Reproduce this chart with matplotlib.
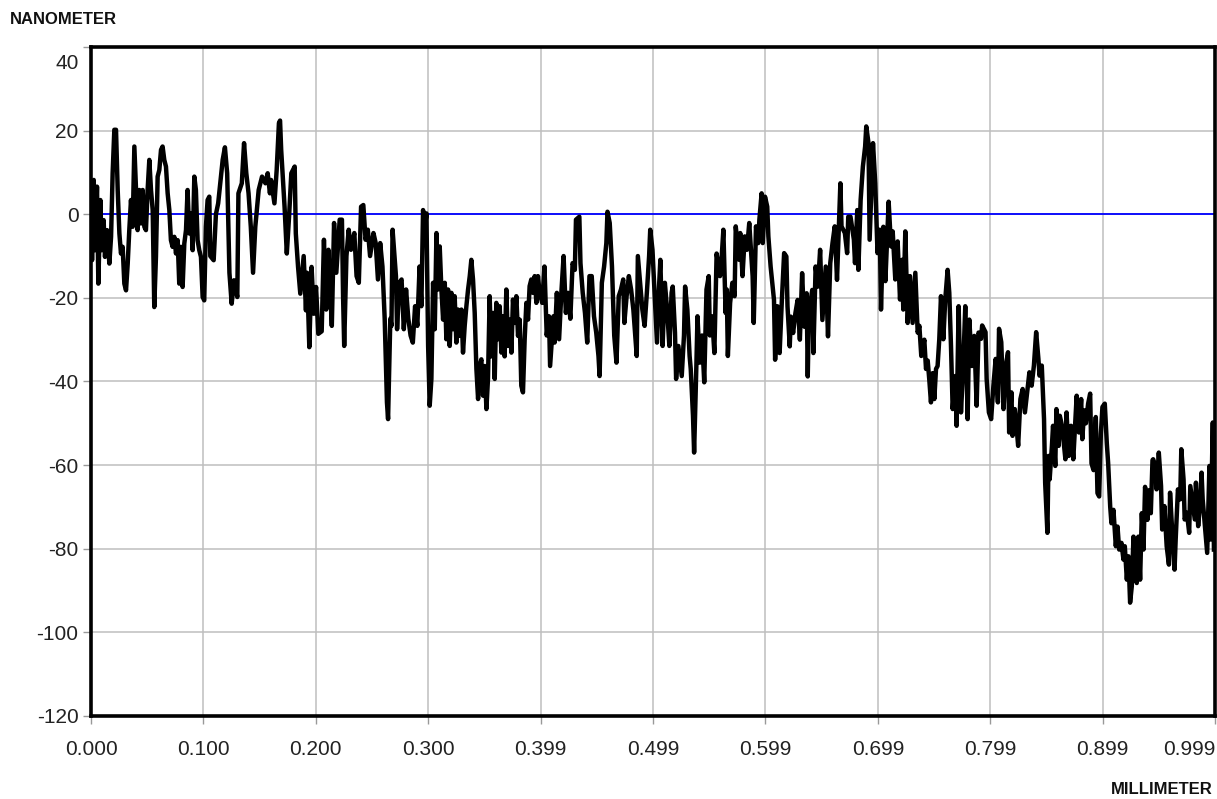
import numpy as np
import matplotlib
matplotlib.use("Agg")
import matplotlib.pyplot as plt
from matplotlib import transforms

plt.rcParams["font.family"] = ["Liberation Sans", "DejaVu Sans"]
plt.rcParams["axes.unicode_minus"] = False

# 표면 프로파일 (x: mm, 높이: nm) - 스캔 구간별로 나눠서 보관
x_a = [0.0000, 0.0009, 0.0024, 0.0036, 0.0053, 0.0065, 0.0083, 0.0095, 0.0112, 0.0124,
       0.0142, 0.0163, 0.0178, 0.0192, 0.0207, 0.0222, 0.0237, 0.0252, 0.0266, 0.0281,
       0.0296, 0.0311, 0.0326, 0.0340, 0.0355, 0.0370, 0.0385, 0.0400, 0.0414, 0.0429,
       0.0444, 0.0459, 0.0474, 0.0488, 0.0503, 0.0518, 0.0533, 0.0548, 0.0562, 0.0577,
       0.0592, 0.0607, 0.0622, 0.0636, 0.0651, 0.0666, 0.0681, 0.0696, 0.0710, 0.0725,
       0.0740, 0.0755, 0.0770, 0.0784, 0.0799, 0.0814, 0.0829, 0.0844, 0.0858, 0.0873,
       0.0888, 0.0903, 0.0918, 0.0932, 0.0947, 0.0962, 0.0977, 0.0992, 0.1006, 0.1021,
       0.1036, 0.1051]
nm_a = [5, -11, 8.2, -8.6, 6.6, -16.6, 3.4, -8.6, -1.4, -10.2,
        -3.8, -11.8, -5.4, 9.8, 20.2, 20.2, 5.8, -4.6, -9.4, -7.8,
        -16.6, -18.2, -11.8, -3.8, 3.4, -3, 16.2, 5.8, -3.8, 5.8,
        -2.2, 5.8, -3, -3.8, 5.8, 13, 5.8, 1, -22.2, -10.2,
        9, 10.6, 15.4, 16.2, 13, 11.4, 5, 1, -6.2, -7.8,
        -5.4, -9.4, -6.2, -16.6, -7.8, -17.4, -7, -3.8, 5.8, -4.6,
        0.2, -8.6, 9, 5.8, -6.2, -8.6, -10.2, -19.8, -20.6, -3,
        3.4, 4.2]

x_b = [0.106, 0.109, 0.111, 0.113, 0.117, 0.119, 0.121, 0.123, 0.125, 0.127,
       0.130, 0.131, 0.134, 0.136, 0.138, 0.140, 0.142, 0.144, 0.146, 0.149,
       0.152, 0.155, 0.157, 0.159, 0.160, 0.163, 0.165, 0.167, 0.168, 0.169,
       0.172, 0.174, 0.176, 0.178, 0.181, 0.182, 0.184, 0.186, 0.189, 0.191,
       0.192, 0.194, 0.196, 0.198, 0.200, 0.202,
       0.205, 0.207, 0.209, 0.211, 0.212, 0.214, 0.216, 0.218, 0.221, 0.223,
       0.224, 0.225, 0.227, 0.229, 0.231, 0.234, 0.236, 0.238, 0.240, 0.242,
       0.244, 0.246, 0.248, 0.251, 0.253, 0.255, 0.257, 0.259, 0.261, 0.263,
       0.264, 0.266, 0.267, 0.268, 0.271, 0.272, 0.274, 0.276, 0.278, 0.280,
       0.282, 0.284, 0.286, 0.288, 0.290, 0.292]
nm_b = [-10, -11, 0, 2.6, 13, 16, 9.8, -14, -21.4, -15.8,
        -19.8, 5, 7.4, 17, 9.8, 5, -3, -14, -3, 5.8,
        9, 7.4, 9.8, 5, 8.2, 2.6, 10.6, 21.8, 22.4, 15.4,
        1.8, -9.4, -0.6, 9.8, 11.4, -4.6, -12.6, -19, -10, -23,
        -14, -31.8, -12.6, -23.8, -17.4, -28.6,
        -28, -6.1, -22.8, -8.5, -14.8, -26.7, -2.1, -14, -1.3, -1.3,
        -19.6, -31.5, -10, -3.7, -8.5, -4.5, -14.8, -16.4, 1.8, 2.2,
        -6.1, -3.7, -10, -4.5, -6.9, -15.6, -6.9, -12.5, -25, -45,
        -49, -25, -26.7, -3.7, -14.8, -27.5, -16.4, -15.6, -27.5, -18,
        -25, -29, -30.7, -22, -26.7, -12.5]

x_c = [0.2936, 0.2951, 0.2966, 0.2981, 0.2996, 0.3010, 0.3025, 0.3040, 0.3055, 0.3070,
       0.3084, 0.3099, 0.3114, 0.3129, 0.3144, 0.3158, 0.3173, 0.3188, 0.3203, 0.3218,
       0.3232, 0.3247, 0.3262, 0.3277, 0.3292, 0.3306, 0.3321, 0.3336, 0.3351, 0.3366,
       0.3380, 0.3395, 0.3410, 0.3425, 0.3440, 0.3454, 0.3469, 0.3484, 0.3499, 0.3514,
       0.3528, 0.3543, 0.3558, 0.3573, 0.3588, 0.3602, 0.3617, 0.3632, 0.3647, 0.3662,
       0.3676, 0.3691, 0.3706, 0.3721, 0.3736, 0.3750, 0.3765, 0.3780, 0.3795, 0.3810,
       0.3824, 0.3839, 0.3854, 0.3869, 0.3884, 0.3898, 0.3913, 0.3928, 0.3943, 0.3958,
       0.3972, 0.3987]
nm_c = [-22, 1, -3.7, 0.2, -31.5, -45.8, -39.4, -16.4, -27.5, -4.5,
        -18, -7.7, -18, -25.2, -16.4, -29.9, -18, -31.5, -18.8, -27.5,
        -19.6, -30.7, -22.8, -29.1, -22.8, -33.1, -26.7, -22, -18, -14.8,
        -10.9, -15.6, -23.6, -37, -44.2, -36.3, -34.7, -43.4, -36.3, -46.6,
        -39.4, -19.6, -34, -23.6, -39.4, -21.2, -29.9, -22, -33.1, -24.4,
        -34, -18, -31.5, -25.2, -33.1, -20.4, -26, -19.6, -29.1, -25.2,
        -41, -42.6, -29.9, -21.2, -25.2, -17.2, -15.6, -18.8, -14.8, -21.2,
        -14.8, -18.8]

x_d = [0.401, 0.403, 0.405, 0.407, 0.408, 0.411, 0.412, 0.414, 0.416, 0.418,
       0.420, 0.422, 0.424, 0.426, 0.428, 0.430, 0.431, 0.434, 0.435, 0.437,
       0.439, 0.441, 0.443, 0.445, 0.447, 0.449, 0.451, 0.452, 0.454, 0.456,
       0.458, 0.459, 0.461, 0.463, 0.465, 0.467, 0.469, 0.471, 0.473, 0.474,
       0.476, 0.478, 0.480, 0.482, 0.485, 0.486, 0.488, 0.490, 0.492, 0.494,
       0.496, 0.497, 0.499, 0.501, 0.503, 0.505, 0.506, 0.508, 0.510, 0.512,
       0.514, 0.516, 0.517, 0.519, 0.520, 0.522, 0.525, 0.527, 0.528, 0.530,
       0.532, 0.533, 0.535, 0.536, 0.538, 0.539, 0.541, 0.543, 0.545, 0.547,
       0.549, 0.550, 0.552, 0.554, 0.556, 0.559, 0.560, 0.562, 0.564, 0.565,
       0.566, 0.568, 0.570, 0.572, 0.573, 0.576, 0.577, 0.579, 0.581, 0.583,
       0.585, 0.588, 0.589, 0.591, 0.593, 0.594, 0.596]
nm_d = [-21.2, -12.5, -29, -24.4, -36.3, -24.4, -30.7, -18.8, -29.9, -18.8,
        -10, -23.6, -18.8, -25, -11.7, -13.3, -1.3, -0.6, -11.7, -18.8,
        -23.6, -30.7, -14.8, -14.8, -24.4, -28.3, -33.9, -38.7, -16.4, -12.5,
        -6.9, 0.6, -2.1, -12.5, -29, -35.5, -19.6, -18, -15.6, -26,
        -19.6, -14.8, -18, -22.8, -33.9, -10, -16.4, -22.8, -26.7, -18.8,
        -10, -3.7, -8.5, -19.6, -30.7, -16.4, -10.9, -31.5, -16.4, -22.8,
        -31.5, -18.8, -17.3, -28.3, -39.4, -31.5, -38.7, -29, -17.3, -22.8,
        -33.9, -37, -48.2, -57, -36.3, -24.4, -35.5, -29, -40.2, -18,
        -14.8, -29, -24.4, -33.2, -9.4, -14.8, -12.5, -3.7, -23.6, -18,
        -33.9, -21.2, -16.4, -19.6, -2.9, -10.9, -4.5, -14.8, -5.3, -8.5,
        -2.1, -14.8, -26, -2.9, -6.9, -1.3, 5]

x_e = [0.597, 0.599, 0.601, 0.602, 0.604, 0.607, 0.608, 0.610, 0.612, 0.614,
       0.616, 0.618, 0.619, 0.621, 0.622, 0.624, 0.626, 0.628, 0.630, 0.632,
       0.634, 0.636, 0.637, 0.638, 0.641, 0.642, 0.644, 0.646, 0.648, 0.650,
       0.652, 0.653, 0.655, 0.657, 0.659, 0.661, 0.663, 0.665, 0.666, 0.667,
       0.670, 0.672, 0.673, 0.675, 0.678, 0.679, 0.681, 0.682, 0.684, 0.686,
       0.688, 0.689, 0.691, 0.692, 0.694, 0.695, 0.697, 0.699, 0.701]
nm_e = [-6.9, 4.2, 1.8, -5.3, -12.5, -20.5, -34.8, -22, -33.2, -20.5,
        -9.3, -10.1, -22, -31.6, -24.5, -28.4, -23.7, -20.5, -30, -14.1,
        -26.9, -18.9, -38.8, -23.7, -18.1, -33.2, -12.5, -17.3, -8.5, -25.3,
        -16.5, -12.5, -29.2, -11.7, -6.9, -2.9, -15.7, -0.6, 7.4, -2.9,
        -4.5, -9.3, -0.6, -0.6, -6.1, -11.7, 1, -13.3, 3.4, 11.4,
        16.2, 21, 17, -6.1, 9.8, 17, 7.4, -9.3, -3.7]

x_f = [0.7021, 0.7042, 0.7060, 0.7089, 0.7110, 0.7125, 0.7148, 0.7169, 0.7190, 0.7208,
       0.7219, 0.7237, 0.7258, 0.7279, 0.7302, 0.7326, 0.7347, 0.7362, 0.7379, 0.7406,
       0.7421, 0.7436, 0.7450, 0.7465, 0.7480, 0.7495, 0.7510, 0.7524, 0.7539, 0.7554,
       0.7575, 0.7592, 0.7613, 0.7628, 0.7643, 0.7658, 0.7681, 0.7693, 0.7711, 0.7732,
       0.7752, 0.7770, 0.7791, 0.7806, 0.7829, 0.7850, 0.7871, 0.7888]
nm_f = [-22.8, -3, -16, 3, -7.7, -4.1, -15.6, -6.5, -20.4, -10.9,
        -22.8, -4.1, -26, -14.8, -26, -14, -28.3, -26.7, -33.9, -30,
        -37, -35, -39.5, -45, -38, -44.2, -37, -36.3, -29.9, -19.6,
        -29.9, -20.4, -13.3, -18.8, -31.5, -46.6, -38.7, -50.6, -22, -47.4,
        -36.3, -22, -49, -25.2, -36.3, -29.1, -45.8, -28.3]

x_g = [0.791, 0.792, 0.795, 0.796, 0.798, 0.800, 0.802, 0.804, 0.806, 0.807,
       0.809, 0.811, 0.813, 0.815, 0.816, 0.818, 0.819, 0.821, 0.823, 0.824,
       0.826, 0.828, 0.830, 0.832, 0.834, 0.836, 0.838, 0.840, 0.842, 0.843,
       0.845, 0.847, 0.848, 0.850, 0.851, 0.852, 0.854, 0.855, 0.857, 0.858,
       0.860, 0.861, 0.863, 0.866, 0.867, 0.869, 0.871, 0.873, 0.875, 0.876,
       0.878, 0.880, 0.881]
nm_g = [-29.8, -26.6, -28.2, -39.4, -47.4, -49, -41, -34.6, -45, -27.4,
        -30.6, -46.6, -36.2, -33, -52.2, -42.6, -53, -46.6, -52.2, -55.4,
        -44.2, -41.8, -47.4, -42.6, -37.8, -41, -36.2, -28.2, -34.6, -38.6,
        -36.2, -49, -64.2, -76.2, -57.8, -63.4, -55.4, -50.6, -60.2, -46.6,
        -55.4, -48.2, -50.6, -58.6, -47.4, -57.8, -50.6, -58.6, -48.2, -43.4,
        -52.2, -44.2, -53.8]

x_h = [0.8827, 0.8842, 0.8862, 0.8880, 0.8892, 0.8910, 0.8930, 0.8945, 0.8960, 0.8975,
       0.8989, 0.9010, 0.9028, 0.9040, 0.9058, 0.9069, 0.9087, 0.9108, 0.9123, 0.9138,
       0.9158, 0.9176, 0.9188, 0.9206, 0.9220, 0.9235, 0.9250, 0.9265, 0.9277, 0.9294,
       0.9309, 0.9324, 0.9339, 0.9354, 0.9368, 0.9389, 0.9404, 0.9419, 0.9434,
       0.944, 0.946, 0.947, 0.949, 0.951, 0.952, 0.954, 0.956, 0.958, 0.959,
       0.961, 0.963, 0.964, 0.966, 0.968, 0.969, 0.971, 0.972, 0.974, 0.976,
       0.977, 0.979, 0.981, 0.982, 0.984, 0.986, 0.987, 0.988, 0.990, 0.992,
       0.994, 0.995, 0.997, 0.998]
nm_h = [-46.9, -50, -45.3, -42.9, -59.6, -61.2, -48.5, -66.7, -67.5, -52.5,
        -46.1, -45.3, -54.8, -59.6, -69.9, -73.9, -70.7, -79.4, -74.7, -80.2,
        -78.6, -82.6, -79.4, -87.4, -81.8, -92.9, -89, -77.1, -84.2, -88.2,
        -77.1, -87.4, -71.5, -80.2, -65.2, -73.1, -66, -71.5, -58.8,
        -58.6, -60.2, -65.8, -57, -65, -75.4, -69.8, -79.4, -83.8, -66.6,
        -76.2, -85, -77.8, -65.8, -68.2, -56.2, -63.4, -73, -71.4, -76.2,
        -65, -69, -73, -64.2, -74.6, -68.2, -61.8, -68.2, -74.6, -81,
        -60.2, -77.8, -49.8, -80.2]

x_tick_labels = ["0.000", "0.100", "0.200", "0.300", "0.399", "0.499",
                 "0.599", "0.699", "0.799", "0.899", "0.999"]
y_ticks = [-120, -100, -80, -60, -40, -20, 0, 20, 40]

x_mm = np.concatenate([x_a, x_b, x_c, x_d, x_e, x_f, x_g, x_h])
z_nm = np.concatenate([nm_a, nm_b, nm_c, nm_d, nm_e, nm_f, nm_g, nm_h])

fig = plt.figure(figsize=(12.17, 7.99), dpi=100)
ax = fig.add_axes([0.0748, 0.1039, 0.9236, 0.8373])
ax.set_axisbelow(True)

ax.grid(True, color="#bebebe", linewidth=1.1)
ax.axhline(0, color="#0000ff", linewidth=1.3, zorder=1)
ax.plot(x_mm, z_nm, color="black", linewidth=3.2, zorder=2)

ax.set_xlim(0, 0.999)
ax.set_ylim(-120, 40)
ax.set_xticks(np.linspace(0, 0.999, len(x_tick_labels)))
ax.set_xticklabels(x_tick_labels)
ax.set_yticks(y_ticks)
ax.set_yticklabels([str(v) for v in y_ticks])

for s in ax.spines.values():
    s.set_linewidth(2.6)
    s.set_color("black")
    s.set_zorder(3)
ax.tick_params(axis="both", color="#999999", width=1, length=6,
               labelsize=15, labelcolor="#222222")
ax.tick_params(axis="x", pad=11)
ax.tick_params(axis="y", pad=3)

# 맨 위 눈금 라벨은 프레임 안쪽으로 조금 내림, 마지막 x 라벨은 왼쪽으로 붙임
for lab in ax.get_yticklabels():
    if lab.get_text() == "40":
        lab.set_transform(lab.get_transform() +
                          transforms.ScaledTranslation(0, -0.15, fig.dpi_scale_trans))
for lab in ax.get_xticklabels():
    if lab.get_text() == "0.999":
        lab.set_horizontalalignment("right")

fig.text(0.008, 0.976, "NANOMETER", fontsize=12, fontweight="bold",
         ha="left", va="center", color="#111111")
fig.text(0.9967, 0.0113, "MILLIMETER", fontsize=12, fontweight="bold",
         ha="right", va="center", color="#111111")

fig.savefig("out.png", dpi=100)
